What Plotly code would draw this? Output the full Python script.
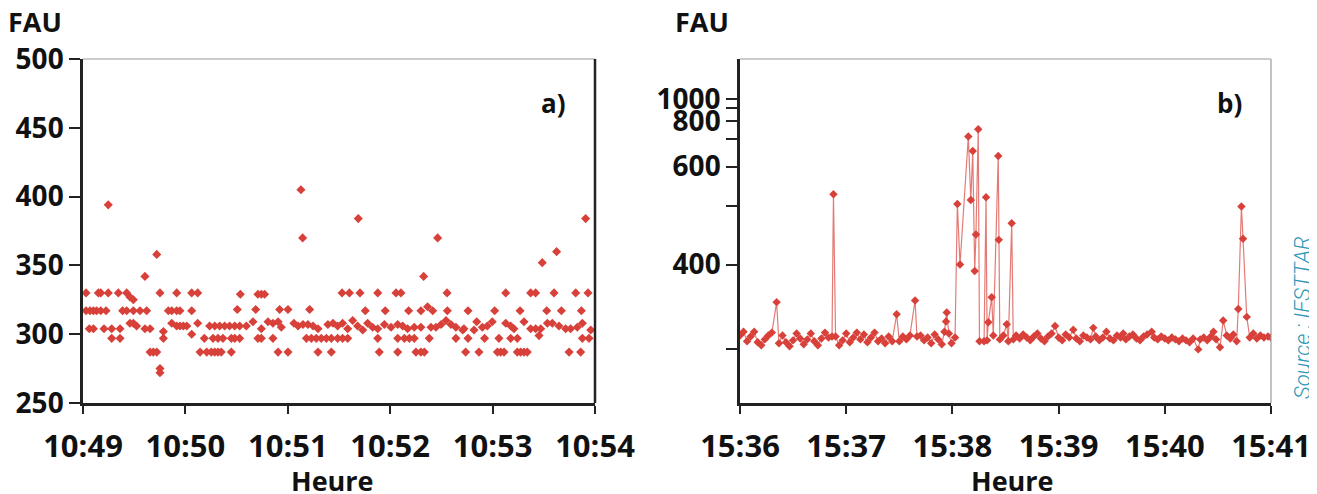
import numpy as np
import plotly.graph_objects as go

# the page body adds an 8 px margin: the figure is drawn 8 px right/down of the window corner
OFF = 8
W, H = 1317 - OFF, 494 - OFF

# ---------------- Panel a) : 10:49 -> 10:54 (time in seconds after 10:49:00) ----------------
a_time_s = [1.8, 1.8, 3.7, 4.1, 6.1, 6.1, 8.0, 9.0, 10.4, 10.4, 12.3, 13.5, 14.8, 14.8, 16.8, 16.8,
            20.7, 21.7, 21.7, 23.2, 25.6, 25.6, 27.5, 27.5, 29.5, 29.5, 29.5, 31.4, 33.4, 36.3, 36.3,
            37.3, 39.3, 39.3, 41.2, 43.2, 43.2, 45.1, 45.1, 45.1, 47.1, 47.1, 50.0, 52.0, 52.0, 54.9,
            54.9, 54.9, 56.8, 56.8, 58.8, 60.8, 63.7, 63.7, 63.7, 67.2, 67.2, 68.6, 71.1, 72.5,
            74.2, 75.2, 76.2, 77.2, 77.2, 79.1, 79.1, 80.1, 81.0, 82.0, 83.0, 85.9, 86.9, 86.9, 88.9,
            88.9, 90.4, 91.8, 91.8, 92.2, 95.7, 99.6, 101.2, 102.5, 102.5, 104.5, 104.5, 104.5, 106.4,
            108.4, 111.3, 111.3, 114.3, 114.3, 115.2, 116.2, 120.1, 120.1, 123.6, 126.0, 127.7, 128.7,
            128.9, 130.9, 131.8, 132.8, 133.8, 134.8, 136.7, 137.7, 137.7, 139.6, 142.6, 143.5, 145.5,
            145.5, 146.5,
            149.2, 149.2, 151.8, 152.1, 152.1, 155.1, 155.1, 156.1, 158.0, 160.9, 161.3, 162.3, 163.9,
            165.4, 166.8, 169.7, 172.7, 172.7, 172.7, 173.6, 176.6, 177.1, 180.5, 183.4, 184.4, 184.4,
            184.4, 186.3, 187.3, 188.3, 190.2, 190.8, 191.2, 194.1, 194.1, 195.1, 198.0, 198.0, 198.0,
            199.6, 200.0, 201.9, 202.9, 203.9, 204.9, 206.8, 207.8, 209.8, 212.7, 213.3, 213.5, 215.6,
            218.5, 218.5, 222.5,
            223.2, 224.2, 225.6, 225.6, 229.1, 230.7, 232.0, 234.0, 235.3, 236.9, 239.8, 241.2, 242.8,
            243.7, 244.7, 246.7, 247.7, 247.7, 250.6, 250.6, 252.5, 254.5, 254.5, 256.1, 256.4, 258.4,
            258.4, 260.3, 262.3, 262.3, 265.2, 265.2, 267.2, 268.2, 269.1, 271.7, 272.1, 275.0, 276.0,
            277.5, 278.9, 280.3, 282.8, 284.8, 285.7, 288.7, 289.6, 291.6, 292.0, 292.6, 292.6, 294.5,
            295.9, 296.5, 297.5]
a_fau = [330, 317, 304, 317, 317, 304, 317, 330, 330, 317, 304, 317, 330, 394, 304, 297,
         330, 304, 297, 317, 330, 317, 327, 308, 325, 317, 308, 306, 317, 342, 304,
         317, 304, 287, 287, 287, 358, 330, 275, 272, 302, 297, 317, 317, 308, 330,
         317, 306, 317, 306, 306, 306, 330, 317, 300, 330, 308, 287, 297, 287,
         306, 287, 297, 306, 287, 297, 287, 306, 287, 297, 306, 306, 297, 287, 306,
         297, 318, 306, 297, 329, 306, 309, 318, 329, 297, 329, 304, 297, 329,
         309, 308, 297, 309, 287, 318, 305, 318, 287, 308, 306, 405, 370,
         307, 297, 307, 318, 297, 306, 297, 304, 287, 297, 297, 307, 297,
         287, 308,
         306, 297, 330, 308, 297, 304, 297, 330, 310, 306, 384, 330, 303,
         317, 308, 305, 330, 304, 297, 287, 307, 317, 305, 330, 307, 297,
         287, 330, 306, 297, 304, 317, 297, 305, 297, 287, 317, 305, 287,
         342, 287, 320, 297, 305, 317, 305, 370, 307, 310, 330, 317, 307,
         305, 297, 303,
         304, 287, 317, 297, 303, 309, 287, 305, 297, 306, 309, 317, 287,
         297, 287, 287, 330, 308, 306, 297, 304, 297, 287, 317, 287, 309,
         287, 287, 330, 304, 330, 304, 299, 304, 352, 317, 308, 308, 330,
         360, 306, 317, 304, 287, 304, 330, 305, 287, 317, 308, 297, 384,
         330, 297, 303]

# ---------------- Panel b) : 15:36 -> 15:41 (time in seconds after 15:36:00) ----------------
b_time_s = [0, 2, 4, 6, 8, 10, 12, 14, 16, 18, 20.7, 22, 24, 26, 28, 30, 32, 34, 36, 38, 40, 42, 44,
            46, 48, 50, 52, 52.8, 54, 56, 58, 60, 62, 64, 66, 68, 70, 72, 74, 76, 78, 80, 82, 84, 86,
            88.5, 90, 92, 94, 96, 98.9, 100, 102, 104, 106, 108, 110, 112, 114, 115.5, 116.4, 116.8,
            118, 119.5, 121.5, 122.8, 124.3, 129.0, 130.4, 131.5, 132.6, 133.3, 134.6, 135.3, 137.9,
            139.0, 139.6, 140.3, 142.2, 143.1, 145.9, 146.2, 146.8, 148.8, 150.7, 151.6, 153.5, 154.4,
            156, 158, 160, 162, 164, 166, 168, 170, 172, 174, 176, 178, 180, 182, 184, 186, 188.3, 190,
            192, 194, 196, 198, 199.6, 201, 203, 205, 207, 209, 211, 213, 215, 216.5, 218, 220, 222,
            224, 226, 228, 230, 232.6, 234, 236, 238, 240, 242, 244, 246, 248, 250, 252, 254, 256,
            258.9, 260, 262, 264, 266, 267.5, 269, 271.2, 273, 275, 277, 278.7, 280.6, 281.5, 283.3,
            284.2, 286.3, 288, 290, 292, 294, 296, 298.3, 300]
b_fau = [314, 318, 308, 313, 318, 307, 304, 310, 314, 317, 351, 306, 314, 307, 303, 309, 316, 311,
         305, 310, 316, 308, 304, 311, 317, 312, 313, 527, 313, 304, 309, 316, 307, 312, 317, 310,
         315, 307, 312, 317, 308, 311, 306, 313, 308,
         337, 308, 313, 310, 314, 353, 313, 314, 309, 312, 306, 315, 310, 305, 318, 329, 339,
         316, 306, 312, 505, 400, 713, 514, 653, 391, 447, 750, 308, 308,
         520, 309, 328, 357, 314, 635, 438, 310, 314, 326, 308, 467, 310,
         314, 311, 315, 312, 309, 313, 316, 311, 308, 313, 316, 324, 312, 309, 315, 312, 320, 311,
         308, 314, 312, 310, 322, 313, 309, 312, 318, 311, 309, 314, 312, 316, 310, 313, 315,
         311, 309, 313, 315, 318, 312, 310, 313, 311, 309, 312, 310, 308, 311, 309, 307, 311,
         300, 310, 312, 309, 313, 318, 310, 302, 330, 314, 311, 315, 308, 343, 500,
         440, 334, 312, 316, 311, 314, 312, 313, 312]

x_ticks_s = [0, 60, 120, 180, 240, 300]
a_xlabels = ["10:49", "10:50", "10:51", "10:52", "10:53", "10:54"]
b_xlabels = ["15:36", "15:37", "15:38", "15:39", "15:40", "15:41"]
a_yticks = [250, 300, 350, 400, 450, 500]
b_yticks = [300, 400, 500, 600, 700, 800, 900, 1000]
b_ylabels = ["", "400", "", "600", "", "800", "", "1000"]

# panel b uses a compressed (non-linear) FAU scale, reproduced with a warp
K = 0.003784


def warp(v):
    return -np.exp(-K * np.asarray(v, dtype=float))


def fx(px):  # window pixel -> paper x
    return (px - OFF) / W


def fy(py):  # window pixel -> paper y
    return 1 - (py - OFF) / H


RED = "#d8413a"
DARK = "#222222"
FONT = "Open Sans"

fig = go.Figure()
fig.add_trace(go.Scatter(x=a_time_s, y=a_fau, mode="markers", xaxis="x", yaxis="y",
                         marker=dict(symbol="diamond", size=7, color=RED),
                         hoverinfo="skip"))
fig.add_trace(go.Scatter(x=b_time_s, y=warp(b_fau), mode="lines+markers", xaxis="x2", yaxis="y2",
                         line=dict(color="rgba(216,65,58,0.7)", width=1.2),
                         marker=dict(symbol="diamond", size=6.5, color=RED),
                         hoverinfo="skip"))

ytickfont = dict(family=FONT, size=28, color="#111111", weight="bold")
xtickfont = dict(family=FONT, size=31, color="#111111", weight="bold")
ydom = [fy(403), fy(59)]

common_x = dict(range=[0, 300], tickvals=x_ticks_s, ticks="outside", ticklen=8, tickwidth=1.5,
                tickcolor=DARK, showline=True, linewidth=2.5, linecolor=DARK, showgrid=False,
                zeroline=False, tickfont=xtickfont, ticklabelstandoff=6, fixedrange=True,
                automargin=False)
common_y = dict(ticks="outside", ticklen=11, tickwidth=1.5, tickcolor=DARK, showline=True,
                linewidth=2.5, linecolor=DARK, showgrid=False, zeroline=False, tickfont=ytickfont,
                domain=ydom, fixedrange=True, automargin=False)

fig.update_layout(
    width=W, height=H, margin=dict(l=0, r=0, t=0, b=0, pad=0), autosize=False,
    paper_bgcolor="white", plot_bgcolor="white", showlegend=False,
    xaxis=dict(domain=[fx(83), fx(595)], ticktext=a_xlabels, anchor="y", **common_x),
    yaxis=dict(range=[250, 500], tickvals=a_yticks, anchor="x", **common_y),
    xaxis2=dict(domain=[fx(740), fx(1271)], ticktext=b_xlabels, anchor="y2", **common_x),
    yaxis2=dict(range=[float(warp(252.0)), 0.02526], tickvals=list(warp(b_yticks)),
                ticktext=b_ylabels, anchor="x2", **common_y),
)

# frame lines
shapes = [
    dict(type="line", xref="x domain", yref="y domain", x0=0, x1=1, y0=1, y1=1,
         line=dict(color="#9a9a9a", width=1)),
    dict(type="line", xref="x domain", yref="y domain", x0=1, x1=1, y0=0, y1=1,
         line=dict(color=DARK, width=2.5)),
    dict(type="line", xref="x2 domain", yref="y2 domain", x0=0, x1=1, y0=1, y1=1,
         line=dict(color="#9a9a9a", width=1)),
    dict(type="line", xref="x2 domain", yref="y2 domain", x0=1, x1=1, y0=0, y1=1,
         line=dict(color="#9a9a9a", width=1.2)),
]
fig.update_layout(shapes=shapes)


def ann(text, x, y, size, **kw):
    d = dict(text=text, x=fx(x), y=fy(y), xref="paper", yref="paper", showarrow=False,
             xanchor="center", yanchor="middle",
             font=kw.pop("font", dict(family=FONT, size=size, color="#111111", weight="bold")))
    d.update(kw)
    return d


fig.update_layout(annotations=[
    ann("FAU", 35, 21, 27),
    ann("FAU", 702, 21, 27),
    ann("a)", 553, 103, 26),
    ann("b)", 1229, 103, 26),
    ann("Heure", 332, 480, 27),
    ann("Heure", 1012, 480, 27),
    ann("<i>Source : IFSTTAR</i>", 1302, 318, 22, textangle=-90,
        font=dict(family="Roboto", size=22, color="#2f98b8", weight=300)),
])

fig.write_html("out.html")
